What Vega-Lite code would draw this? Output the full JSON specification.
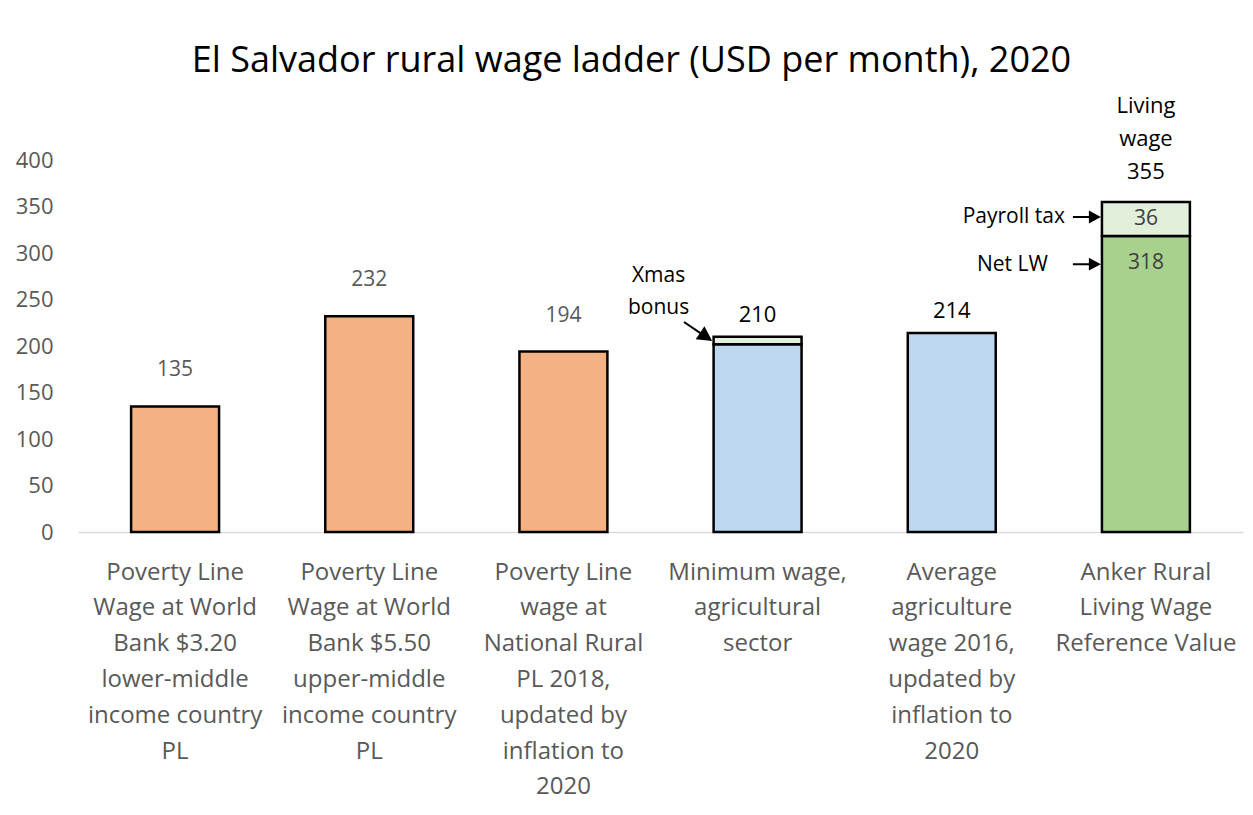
{
  "$schema": "https://vega.github.io/schema/vega-lite/v6.json",
  "width": 1165,
  "height": 372,
  "autosize": "none",
  "padding": {"left": 78, "top": 160, "right": 10, "bottom": 283},
  "background": "white",
  "config": {"view": {"stroke": null}, "font": "Open Sans"},
  "title": {
    "text": "El Salvador rural wage ladder (USD per month), 2020",
    "font": "Open Sans", "fontSize": 36, "fontWeight": "normal", "color": "#000000",
    "anchor": "middle", "frame": "group", "offset": 15, "dx": -29
  },
  "datasets": {
    "bars": [
      {"category": "Poverty Line|Wage at World|Bank $3.20|lower-middle|income country|PL", "segment": "Poverty line", "part": "a", "value": 135},
      {"category": "Poverty Line|Wage at World|Bank $5.50|upper-middle|income country|PL", "segment": "Poverty line", "part": "a", "value": 232},
      {"category": "Poverty Line|wage at|National Rural|PL 2018,|updated by|inflation to|2020", "segment": "Poverty line", "part": "a", "value": 194},
      {"category": "Minimum wage,|agricultural|sector", "segment": "Wage", "part": "a", "value": 202},
      {"category": "Minimum wage,|agricultural|sector", "segment": "Xmas bonus", "part": "b", "value": 8},
      {"category": "Average|agriculture|wage 2016,|updated by|inflation to|2020", "segment": "Wage", "part": "a", "value": 214},
      {"category": "Anker Rural|Living Wage|Reference Value", "segment": "Net living wage", "part": "a", "value": 318.4},
      {"category": "Anker Rural|Living Wage|Reference Value", "segment": "Payroll tax", "part": "b", "value": 36.4}
    ],
    "totals": [
      {"category": "Poverty Line|Wage at World|Bank $3.20|lower-middle|income country|PL", "group": "poverty", "total": 135},
      {"category": "Poverty Line|Wage at World|Bank $5.50|upper-middle|income country|PL", "group": "poverty", "total": 232},
      {"category": "Poverty Line|wage at|National Rural|PL 2018,|updated by|inflation to|2020", "group": "poverty", "total": 194},
      {"category": "Minimum wage,|agricultural|sector", "group": "wage", "total": 210},
      {"category": "Average|agriculture|wage 2016,|updated by|inflation to|2020", "group": "wage", "total": 214}
    ]
  },
  "encoding": {
    "x": {
      "field": "category", "type": "nominal", "sort": null,
      "scale": {"paddingInner": 0.547, "paddingOuter": 0.2735},
      "axis": {
        "title": null, "domainColor": "#d9d9d9", "domainWidth": 1.5, "ticks": false,
        "labelExpr": "split(datum.label, '|')", "labelFont": "Open Sans", "labelFontSize": 24,
        "labelColor": "#595959", "labelLineHeight": 35.8, "labelPadding": 28, "labelAngle": 0,
        "labelLimit": 400, "labelOverlap": false, "labelBaseline": "top"
      }
    }
  },
  "layer": [
    {
      "data": {"name": "bars"},
      "mark": {"type": "bar", "stroke": "black", "strokeWidth": 2.5},
      "encoding": {
        "y": {
          "field": "value", "type": "quantitative", "stack": "zero",
          "scale": {"domain": [0, 400], "nice": false},
          "axis": {
            "title": null, "domain": false, "ticks": false, "grid": false,
            "values": [0, 50, 100, 150, 200, 250, 300, 350, 400],
            "labelFont": "Open Sans", "labelFontSize": 22, "labelColor": "#595959", "labelPadding": 25
          }
        },
        "color": {
          "field": "segment", "type": "nominal", "legend": null,
          "scale": {
            "domain": ["Poverty line", "Wage", "Xmas bonus", "Net living wage", "Payroll tax"],
            "range": ["#F4B183", "#BDD7EE", "#E2EFDA", "#A9D18E", "#E2EFDA"]
          }
        },
        "order": {"field": "part", "type": "ordinal", "sort": "ascending"}
      }
    },
    {
      "data": {"name": "totals"},
      "transform": [{"filter": "datum.group == 'poverty'"}],
      "mark": {"type": "text", "font": "Open Sans", "fontSize": 21, "color": "#595959", "baseline": "middle", "dy": -36},
      "encoding": {
        "y": {"field": "total", "type": "quantitative", "stack": null},
        "text": {"field": "total", "type": "quantitative", "format": ".0f"}
      }
    },
    {
      "data": {"name": "totals"},
      "transform": [{"filter": "datum.group == 'wage'"}],
      "mark": {"type": "text", "font": "Open Sans", "fontSize": 22, "color": "#000000", "baseline": "middle", "dy": -22},
      "encoding": {
        "y": {"field": "total", "type": "quantitative", "stack": null},
        "text": {"field": "total", "type": "quantitative", "format": ".0f"}
      }
    },
    {
      "data": {"values": [{"category": "Anker Rural|Living Wage|Reference Value", "total": 354.8, "label": "Living\nwage\n355"}]},
      "mark": {"type": "text", "font": "Open Sans", "fontSize": 22, "color": "#000000", "baseline": "middle", "align": "center", "lineBreak": "\n", "lineHeight": 33, "dy": -96},
      "encoding": {
        "y": {"field": "total", "type": "quantitative", "stack": null},
        "text": {"field": "label", "type": "nominal"}
      }
    },
    {
      "data": {"values": [
        {"category": "Anker Rural|Living Wage|Reference Value", "pos": 336.6, "label": "36"},
        {"category": "Anker Rural|Living Wage|Reference Value", "pos": 289, "label": "318"}
      ]},
      "mark": {"type": "text", "font": "Open Sans", "fontSize": 21, "color": "#404040", "baseline": "middle"},
      "encoding": {
        "y": {"field": "pos", "type": "quantitative", "stack": null},
        "text": {"field": "label", "type": "nominal"}
      }
    },
    {
      "data": {"values": [
        {"category": "Anker Rural|Living Wage|Reference Value", "pos": 338.7, "label": "Payroll tax"}
      ]},
      "mark": {"type": "text", "font": "Open Sans", "fontSize": 21, "color": "#000000", "baseline": "middle", "align": "right", "xOffset": -81},
      "encoding": {
        "y": {"field": "pos", "type": "quantitative", "stack": null},
        "text": {"field": "label", "type": "nominal"}
      }
    },
    {
      "data": {"values": [
        {"category": "Anker Rural|Living Wage|Reference Value", "pos": 287, "label": "Net LW"}
      ]},
      "mark": {"type": "text", "font": "Open Sans", "fontSize": 21, "color": "#000000", "baseline": "middle", "align": "right", "xOffset": -98},
      "encoding": {
        "y": {"field": "pos", "type": "quantitative", "stack": null},
        "text": {"field": "label", "type": "nominal"}
      }
    },
    {
      "data": {"values": [
        {"category": "Minimum wage,|agricultural|sector", "pos": 275, "label": "Xmas\nbonus"}
      ]},
      "mark": {"type": "text", "font": "Open Sans", "fontSize": 21, "color": "#000000", "baseline": "middle", "align": "center", "lineBreak": "\n", "lineHeight": 32, "xOffset": -99},
      "encoding": {
        "y": {"field": "pos", "type": "quantitative", "stack": null},
        "text": {"field": "label", "type": "nominal"}
      }
    },
    {
      "data": {"values": [
        {"category": "Anker Rural|Living Wage|Reference Value", "pos": 338.7},
        {"category": "Anker Rural|Living Wage|Reference Value", "pos": 288}
      ]},
      "mark": {"type": "point", "shape": "M-1,-0.07L0.14,-0.07L0.14,-0.46L1,0L0.14,0.46L0.14,0.07L-1,0.07Z", "size": 784, "filled": true, "color": "#000000", "opacity": 1, "strokeWidth": 0, "xOffset": -59},
      "encoding": {
        "y": {"field": "pos", "type": "quantitative", "stack": null}
      }
    },
    {
      "data": {"values": [
        {"category": "Minimum wage,|agricultural|sector", "pos": 215.6}
      ]},
      "mark": {"type": "point", "shape": "M-1,-0.06L0.14,-0.06L0.14,-0.46L1,0L0.14,0.46L0.14,0.06L-1,0.06Z", "size": 1156, "angle": 34, "filled": true, "color": "#000000", "opacity": 1, "strokeWidth": 0, "xOffset": -59.5},
      "encoding": {
        "y": {"field": "pos", "type": "quantitative", "stack": null}
      }
    }
  ]
}
